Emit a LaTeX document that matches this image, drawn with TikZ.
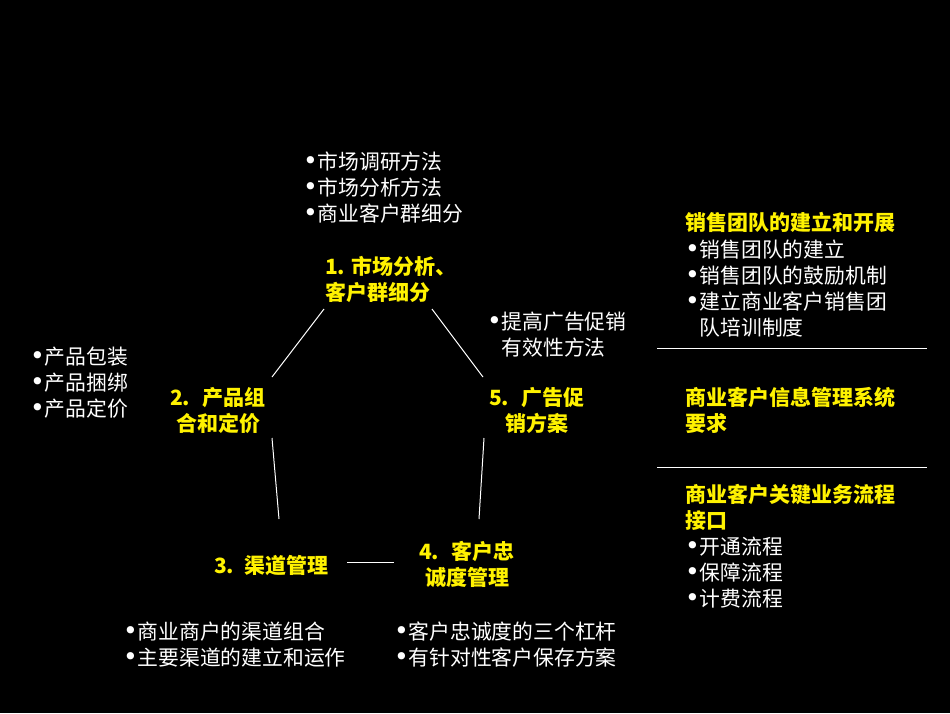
\documentclass[tikz,border=0pt]{standalone}
\usepackage{fontspec}
\setmainfont{Noto Sans CJK SC}
\newfontfamily\dvfont{DejaVu Sans}
\newcommand\mybul{\makebox[14.5pt][l]{\dvfont\fontsize{25}{25}\selectfont •}}
\newcommand\myind{\hspace*{14.5pt}}
\tikzset{
  wt/.style={text=white, font=\fontsize{20.8}{25.8}\selectfont, inner sep=0pt, anchor=base west, align=left},
  ylw/.style={text=yellow, font=\fontsize{21}{25.5}\selectfont\bfseries, inner sep=0pt, anchor=base west, align=left},
  ylc/.style={text=yellow, font=\fontsize{21}{25.5}\selectfont\bfseries, inner sep=0pt, anchor=base, align=center},
  ln/.style={draw=white, line width=1pt},
}
\begin{document}
\begin{tikzpicture}[x=1pt,y=-1pt]
\fill[black] (0,0) rectangle (950,713);
\useasboundingbox (0,0) rectangle (950,713);

% (multi-line nodes are placed at the baseline of their last line)
% top list
\node[wt] (t1) at (303,221) {\mybul 市场调研方法\\\mybul 市场分析方法\\\mybul 商业客户群细分};
% node 1
\node[ylw] (n1) at (325,300) {1. 市场分析、\\客户群细分};
% left list
\node[wt] (t2) at (30,416) {\mybul 产品包装\\\mybul 产品捆绑\\\mybul 产品定价};
% node 2
\node[ylc] (n2) at (218,431) {2.\hspace{0.6em}产品组\\合和定价};
% right list near 5
\node[wt] (t5) at (487,355) {\mybul 提高广告促销\\\myind 有效性方法};
% node 5
\node[ylc] (n5) at (537,431) {5.\hspace{0.6em}广告促\\销方案};
% node 3
\node[ylw] (n3) at (214,573) {3.\hspace{0.5em}渠道管理};
% node 4
\node[ylc] (n4) at (467,585) {4.\hspace{0.6em}客户忠\\诚度管理};
% bottom lists
\node[wt] (t3) at (123,665) {\mybul 商业商户的渠道组合\\\mybul 主要渠道的建立和运作};
\node[wt] (t4) at (394,665) {\mybul 客户忠诚度的三个杠杆\\\mybul 有针对性客户保存方案};

% right panel
\node[ylw] (r1) at (685,230) {销售团队的建立和开展};
\node[wt] (r1l) at (685,335) {\mybul 销售团队的建立\\\mybul 销售团队的鼓励机制\\\mybul 建立商业客户销售团\\\myind 队培训制度};
\node[ylw] (r2) at (685,431) {商业客户信息管理系统\\要求};
\node[ylw] (r3) at (685,528) {商业客户关键业务流程\\接口};
\node[wt] (r3l) at (685,606) {\mybul 开通流程\\\mybul 保障流程\\\mybul 计费流程};

\coordinate (s1) at (657,348);
\coordinate (e1) at (927,348);
\coordinate (s2) at (657,467);
\coordinate (e2) at (927,467);
\draw[ln] (s1) -- (e1);
\draw[ln] (s2) -- (e2);

% connectors
\coordinate (a12) at (324,309);
\coordinate (b12) at (272,377);
\coordinate (a15) at (432,309);
\coordinate (b15) at (483,377);
\coordinate (a23) at (272,438);
\coordinate (b23) at (279,519);
\coordinate (a54) at (484,438);
\coordinate (b54) at (479,519);
\coordinate (a34) at (347,562);
\coordinate (b34) at (394,562);
\draw[ln] (a12) -- (b12);
\draw[ln] (a15) -- (b15);
\draw[ln] (a23) -- (b23);
\draw[ln] (a54) -- (b54);
\draw[ln] (a34) -- (b34);
\end{tikzpicture}
\end{document}
